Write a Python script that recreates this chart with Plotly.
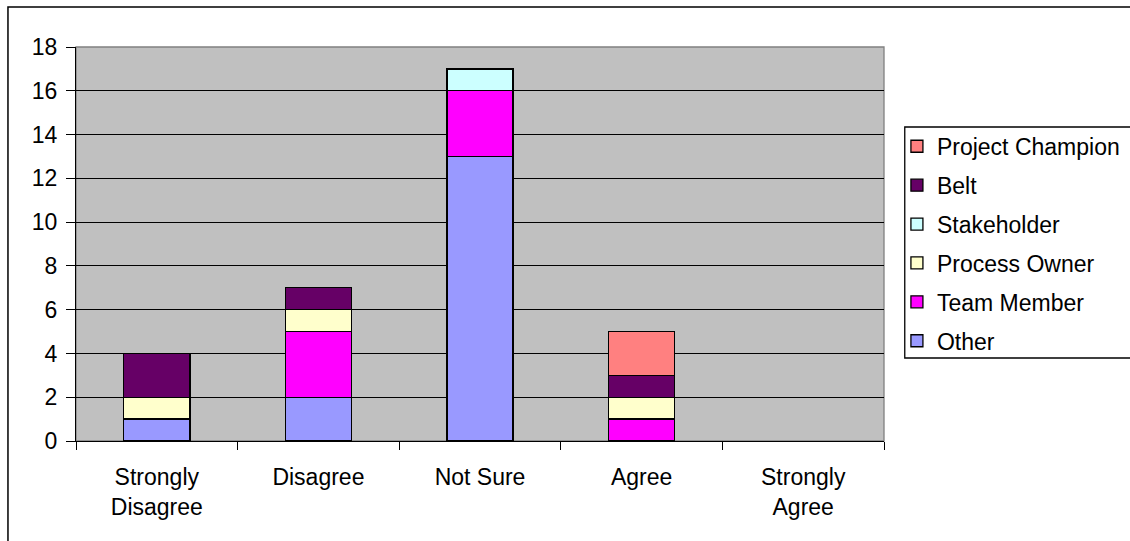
import plotly.graph_objects as go

categories = ["Strongly<br>Disagree", "Disagree", "Not Sure", "Agree", "Strongly<br>Agree"]

other = [1, 2, 13, 0, 0]
team_member = [0, 3, 3, 1, 0]
process_owner = [1, 1, 0, 1, 0]
stakeholder = [0, 0, 1, 0, 0]
belt = [2, 1, 0, 1, 0]
project_champion = [0, 0, 0, 2, 0]

series = [
    ("Other", other, "#9999FF"),
    ("Team Member", team_member, "#FF00FF"),
    ("Process Owner", process_owner, "#FFFFCC"),
    ("Stakeholder", stakeholder, "#CCFFFF"),
    ("Belt", belt, "#660066"),
    ("Project Champion", project_champion, "#FF8080"),
]

FAMILY = "Liberation Sans, Arial, sans-serif"

fig = go.Figure()
for i, (name, vals, color) in enumerate(series):
    # empty segments are left out so no zero-height outline is drawn
    shown = [v if v else None for v in vals]
    fig.add_trace(go.Bar(
        name=name, x=categories, y=shown, legendgroup=name,
        legendrank=len(series) - i,  # top of the stack first in the legend
        marker=dict(color=color, line=dict(color="black", width=1.3)),
        width=0.41,
    ))

fig.update_layout(
    barmode="stack",
    width=1130, height=541,
    margin=dict(l=76, r=246, t=47, b=100, autoexpand=False),
    paper_bgcolor="white",
    plot_bgcolor="#C0C0C0",
    font=dict(family=FAMILY, size=23, color="black"),
    showlegend=True,
    legend=dict(
        x=1.016, y=0.8025, xanchor="left", yanchor="top",
        traceorder="grouped", tracegroupgap=6,
        borderwidth=0, bgcolor="rgba(0,0,0,0)",
        font=dict(family=FAMILY, size=23, color="black"),
        itemwidth=30,
    ),
    xaxis=dict(
        type="category", tickson="boundaries", ticks="outside", ticklen=8,
        tickcolor="black", tickwidth=1.3, showline=True, linecolor="black", linewidth=1.3,
        showgrid=False, tickfont=dict(family=FAMILY, size=23), ticklabelstandoff=15,
    ),
    yaxis=dict(
        range=[0, 18], dtick=2, ticks="outside", ticklen=9, tickcolor="black", tickwidth=1.3,
        showline=True, linecolor="black", linewidth=1.3,
        gridcolor="black", gridwidth=1.3, zeroline=False,
        tickfont=dict(family=FAMILY, size=23), ticklabelstandoff=4,
    ),
    shapes=[
        # grey frame of the plotting area
        dict(type="rect", xref="paper", yref="paper", x0=0, x1=1, y0=0, y1=1,
             line=dict(color="#808080", width=1.3), layer="below"),
        # legend frame
        dict(type="rect", xref="paper", yref="paper", x0=1.0257, x1=1.35, y0=0.2107, y1=0.797,
             line=dict(color="black", width=1.3), fillcolor="white", layer="below"),
        # outer chart frame
        dict(type="rect", xref="paper", yref="paper", x0=-0.0842, x1=1.4, y0=-0.3, y1=1.1015,
             line=dict(color="black", width=1.5), fillcolor="rgba(0,0,0,0)"),
    ],
)

fig.write_html("out.html")
